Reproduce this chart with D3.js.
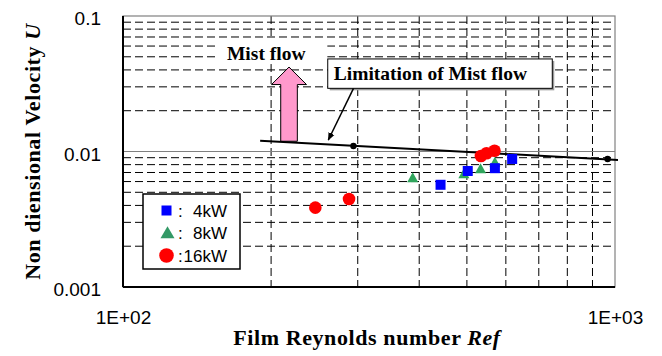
<!DOCTYPE html>
<html><head><meta charset="utf-8">
<script src="https://cdn.jsdelivr.net/npm/d3@7"></script>
<style>html,body{margin:0;padding:0;background:#fff;}svg{display:block;}</style>
</head><body>
<svg id="chart" width="662" height="356"></svg>
<script>
// ---- data ----
const xTickVals = [100, 1000];
const xTickLabels = ["1E+02", "1E+03"];
const yTickVals = [0.001, 0.01, 0.1];
const yTickLabels = ["0.001", "0.01", "0.1"];
const xMinor = [200, 300, 400, 500, 600, 700, 800, 900];
const yMinor = [0.002, 0.003, 0.004, 0.005, 0.006, 0.007, 0.008, 0.009,
                0.02, 0.03, 0.04, 0.05, 0.06, 0.07, 0.08, 0.09];

const seriesNames = ["4kW", "8kW", "16kW"];
const re4kW = [442, 502, 570, 618];
const u4kW = [0.00568, 0.00718, 0.00753, 0.00881];
const re8kW = [388, 493, 533, 570];
const u8kW = [0.00634, 0.00680, 0.00739, 0.00827];
const re16kW = [246, 288, 534, 548, 569];
const u16kW = [0.00385, 0.00446, 0.00927, 0.00970, 0.01014];

const limitRe = [190, 1014];
const limitU = [0.0120, 0.00865];
const limitMarkRe = [294, 966];
const limitMarkU = [0.01098, 0.00881];

const xTitle = "Film Reynolds number ";
const xTitleItalic = "Ref";
const yTitle = "Non diensional Velocity ";
const yTitleItalic = "U";
const mistText = "Mist flow";
const limitText = "Limitation of Mist flow";

// ---- layout ----
const W = 662, H = 356;
const L = 123, R = 615, T = 16, B = 287;
const svg = d3.select("#chart");
svg.append("rect").attr("width", W).attr("height", H).attr("fill", "#fff");

const x = d3.scaleLog().domain([100, 1000]).range([L, R]);
const y = d3.scaleLog().domain([0.001, 0.1]).range([B, T]);

// grid
const grid = svg.append("g");
grid.selectAll(".vx").data(xMinor).join("line")
  .attr("x1", d => x(d)).attr("x2", d => x(d)).attr("y1", T).attr("y2", B)
  .attr("stroke", "#000").attr("stroke-width", 1).attr("stroke-dasharray", "8,4");
grid.selectAll(".hy").data(yMinor).join("line")
  .attr("x1", L).attr("x2", R).attr("y1", d => y(d)).attr("y2", d => y(d))
  .attr("stroke", "#000").attr("stroke-width", 1).attr("stroke-dasharray", "8,4");
grid.append("line").attr("x1", L).attr("x2", R).attr("y1", y(0.01)).attr("y2", y(0.01))
  .attr("stroke", "#808080").attr("stroke-width", 1);

// frame
svg.append("rect").attr("x", L).attr("y", T).attr("width", R - L).attr("height", B - T)
  .attr("fill", "none").attr("stroke", "#808080").attr("stroke-width", 1.2);
svg.append("line").attr("x1", L).attr("x2", L).attr("y1", T).attr("y2", B).attr("stroke", "#000").attr("stroke-width", 2);
svg.append("line").attr("x1", L).attr("x2", R).attr("y1", B).attr("y2", B).attr("stroke", "#000").attr("stroke-width", 2);

// axes
const xAxis = svg.append("g").attr("transform", `translate(0,${B})`)
  .call(d3.axisBottom(x).tickValues(xTickVals).tickFormat((d, i) => xTickLabels[i]).tickSize(0).tickPadding(24));
xAxis.select(".domain").remove();
xAxis.selectAll("text").attr("font-family", "'Liberation Sans', Arial, sans-serif").attr("font-size", 19).attr("fill", "#000");

const yAxis = svg.append("g").attr("transform", `translate(${L},0)`)
  .call(d3.axisLeft(y).tickValues(yTickVals).tickFormat((d, i) => yTickLabels[i]).tickSize(0).tickPadding(22));
yAxis.select(".domain").remove();
yAxis.selectAll("text").attr("font-family", "'Liberation Sans', Arial, sans-serif").attr("font-size", 19).attr("fill", "#000").attr("dy", "0.45em");

// axis titles
const serif = "'Liberation Serif', 'Times New Roman', serif";
const xt = svg.append("text").attr("x", (L + R) / 2 - 2).attr("y", 345).attr("text-anchor", "middle")
  .attr("font-family", serif).attr("font-size", 22).attr("font-weight", "bold").attr("letter-spacing", 0.6);
xt.append("tspan").text(xTitle);
xt.append("tspan").attr("font-style", "italic").text(xTitleItalic);

const yt = svg.append("text").attr("transform", `translate(40,${(T + B) / 2}) rotate(-90)`).attr("text-anchor", "middle")
  .attr("font-family", serif).attr("font-size", 22).attr("font-weight", "bold").attr("letter-spacing", 0.6);
yt.append("tspan").text(yTitle);
yt.append("tspan").attr("font-style", "italic").text(yTitleItalic);

// white area behind "Mist flow"
svg.append("rect").attr("x", x(155.3)).attr("y", y(0.0665)).attr("width", x(260.2) - x(155.3)).attr("height", y(0.0442) - y(0.0665)).attr("fill", "#fff");
svg.append("text").attr("x", x(195.5)).attr("y", y(0.0473)).attr("text-anchor", "middle")
  .attr("font-family", serif).attr("font-size", 19.5).attr("font-weight", "bold").text(mistText);

// pink arrow
const ax = x(217.5), tipY = y(0.042), headY = y(0.0312), baseY = y(0.0119);
const shaftW = 8.3, headW = 17.5;
svg.append("path")
  .attr("d", `M${ax - shaftW},${baseY} L${ax - shaftW},${headY} L${ax - headW},${headY} L${ax},${tipY} L${ax + headW},${headY} L${ax + shaftW},${headY} L${ax + shaftW},${baseY} Z`)
  .attr("fill", "#FF99CC").attr("stroke", "#000").attr("stroke-width", 1);

// limitation box
const bx0 = x(260.7), bx1 = x(745.6), by0 = y(0.0482), by1 = y(0.02926);
svg.append("rect").attr("x", bx0 + 2).attr("y", by0 + 2).attr("width", bx1 - bx0).attr("height", by1 - by0).attr("fill", "#999");
svg.append("rect").attr("x", bx0).attr("y", by0).attr("width", bx1 - bx0).attr("height", by1 - by0)
  .attr("fill", "#fff").attr("stroke", "#000").attr("stroke-width", 1);
svg.append("text").attr("x", bx0 + 6).attr("y", by0 + 21).attr("font-family", serif).attr("font-size", 19.5)
  .attr("font-weight", "bold").text(limitText);

// pointer
const defs = svg.append("defs");
defs.append("marker").attr("id", "ah").attr("viewBox", "0 0 10 10").attr("refX", 9).attr("refY", 5)
  .attr("markerWidth", 8).attr("markerHeight", 8).attr("markerUnits", "userSpaceOnUse").attr("orient", "auto")
  .append("path").attr("d", "M0,1 L10,5 L0,9 Z").attr("fill", "#000");
svg.append("line").attr("x1", x(294.1)).attr("y1", by1).attr("x2", x(261.4)).attr("y2", y(0.01216))
  .attr("stroke", "#000").attr("stroke-width", 1.5).attr("marker-end", "url(#ah)");

// limitation line
const lineData = limitRe.map((r, i) => [r, limitU[i]]);
svg.append("path").datum(lineData).attr("d", d3.line().x(d => x(d[0])).y(d => y(d[1])))
  .attr("fill", "none").attr("stroke", "#000").attr("stroke-width", 2);
svg.selectAll(".lm").data(limitMarkRe.map((r, i) => [r, limitMarkU[i]])).join("circle")
  .attr("cx", d => x(d[0])).attr("cy", d => y(d[1])).attr("r", 3.2).attr("fill", "#000");

// data points
const green = "#2FA55C", blue = "#0000FF", red = "#FF0000";
const tri = (cx, cy, w, h) => `M${cx},${cy - h * 0.6} L${cx + w / 2},${cy + h * 0.4} L${cx - w / 2},${cy + h * 0.4} Z`;
svg.selectAll(".g8").data(re8kW.map((r, i) => [r, u8kW[i]])).join("path")
  .attr("d", d => tri(x(d[0]), y(d[1]), 11, 10)).attr("fill", green);
svg.selectAll(".b4").data(re4kW.map((r, i) => [r, u4kW[i]])).join("rect")
  .attr("x", d => x(d[0]) - 5).attr("y", d => y(d[1]) - 5).attr("width", 10).attr("height", 10).attr("fill", blue);
svg.selectAll(".r16").data(re16kW.map((r, i) => [r, u16kW[i]])).join("circle")
  .attr("cx", d => x(d[0])).attr("cy", d => y(d[1])).attr("r", 6.3).attr("fill", red);

// legend
const lg = svg.append("g");
lg.append("rect").attr("x", 143).attr("y", 194).attr("width", 97).attr("height", 75)
  .attr("fill", "#fff").attr("stroke", "#000").attr("stroke-width", 1.5);
const rows = [210.5, 233, 255.5];
lg.append("rect").attr("x", 161.5).attr("y", rows[0] - 5).attr("width", 10).attr("height", 10).attr("fill", blue);
lg.append("path").attr("d", tri(167.5, rows[1] + 0.5, 14, 12)).attr("fill", "#339966");
lg.append("circle").attr("cx", 166.5).attr("cy", rows[2]).attr("r", 7.3).attr("fill", red);
seriesNames.forEach((n, i) => {
  lg.append("text").attr("x", 178).attr("y", rows[i]).attr("dy", "0.36em")
    .attr("font-family", "'Liberation Sans', Arial, sans-serif").attr("font-size", 17).text(":");
  lg.append("text").attr("x", 227).attr("y", rows[i]).attr("dy", "0.36em").attr("text-anchor", "end")
    .attr("font-family", "'Liberation Sans', Arial, sans-serif").attr("font-size", 17).text(n);
});
</script>
</body></html>
